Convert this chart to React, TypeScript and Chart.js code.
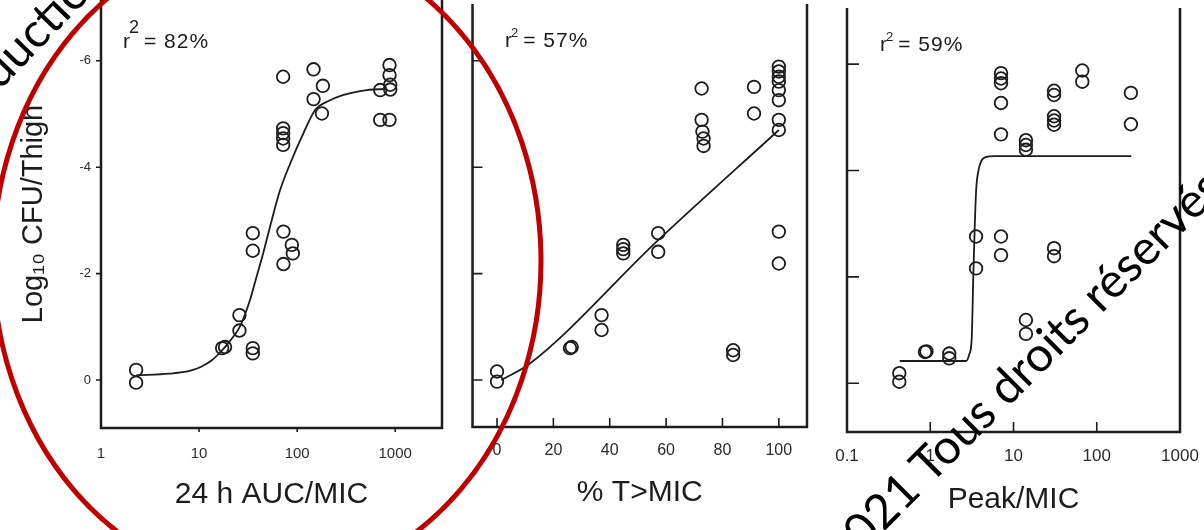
import React, { useEffect, useRef } from "react";
import { Chart, registerables } from "chart.js";

Chart.register(...registerables);

const INK = "#1c1c1c";
const FONT = '"Liberation Sans", Arial, Helvetica, sans-serif';

// shared y axis (log10 CFU/thigh change)
const Y_TICKS = [-6, -4, -2, 0];
const Y_LABELS = ["-6", "-4", "-2", "0"];

// Panel 1 : 24 h AUC/MIC
const AUC_TICKS = [1, 10, 100, 1000];
const AUC_LABELS = ["1", "10", "100", "1000"];
const AUC_X = [2.28, 2.28, 17.2, 18.4, 25.8, 25.8, 35.3, 35.3, 35.3, 35.3, 72.5, 88.3, 90.4, 72.5, 72, 72, 72, 72, 72, 147, 183, 147, 179, 703, 875, 875, 890, 890, 703, 875];
const AUC_Y = [-0.19, 0.05, -0.6, -0.62, -1.22, -0.93, -0.6, -0.5, -2.76, -2.43, -2.79, -2.54, -2.38, -2.18, -5.7, -4.73, -4.64, -4.54, -4.42, -5.84, -5.53, -5.28, -5.01, -5.45, -5.92, -5.73, -5.55, -5.46, -4.89, -4.89];
const AUC_FIT_X = [2.3, 5, 8, 10.5, 13.5, 17, 21, 26, 33, 38, 45, 55, 67, 85, 116, 153, 201, 297, 514, 760];
const AUC_FIT_Y = [-0.09, -0.12, -0.17, -0.25, -0.37, -0.55, -0.75, -1.0, -1.5, -1.9, -2.38, -3.0, -3.57, -4.07, -4.64, -5.08, -5.23, -5.36, -5.45, -5.47];

// Panel 2 : % T>MIC
const T_TICKS = [0, 20, 40, 60, 80, 100];
const T_LABELS = ["0", "20", "40", "60", "80", "100"];
const T_X = [0, 0, 25.9, 26.5, 37.1, 37.1, 44.8, 44.8, 44.8, 57.2, 57.2, 83.8, 83.8, 72.6, 72.6, 72.9, 73.3, 73.3, 91.2, 91.2, 100, 100, 100, 100, 100, 100, 100, 100, 100, 100];
const T_Y = [-0.16, 0.03, -0.6, -0.62, -1.22, -0.94, -2.54, -2.46, -2.38, -2.76, -2.41, -0.56, -0.47, -5.48, -4.89, -4.67, -4.54, -4.4, -5.51, -5.01, -5.89, -5.8, -5.7, -5.61, -5.45, -5.26, -4.89, -4.7, -2.79, -2.19];
const T_FIT_X = [1.5, 11.7, 57, 100];
const T_FIT_Y = [0.0, -0.31, -2.62, -4.7];

// Panel 3 : Peak/MIC
const PEAK_TICKS = [0.1, 1, 10, 100, 1000];
const PEAK_LABELS = ["0.1", "1", "10", "100", "1000"];
const PEAK_X = [0.425, 0.425, 0.865, 0.9, 1.69, 1.69, 3.55, 3.55, 7.08, 7.08, 7.08, 7.08, 7.08, 7.08, 7.08, 14.1, 14.1, 14.1, 14.1, 14.1, 30.7, 30.7, 30.7, 30.7, 30.7, 30.7, 30.7, 67, 67, 257, 257];
const PEAK_Y = [-0.19, -0.03, -0.59, -0.6, -0.56, -0.47, -2.76, -2.16, -2.76, -2.41, -5.83, -5.73, -5.64, -5.27, -4.68, -4.57, -4.48, -4.39, -1.19, -0.93, -5.5, -5.42, -5.02, -4.94, -4.86, -2.54, -2.39, -5.88, -5.67, -5.46, -4.87];
const PEAK_FIT_X = [0.43, 2.7, 2.95, 3.15, 3.3, 3.55, 3.8, 4.1, 4.6, 6, 260];
const PEAK_FIT_Y = [-0.42, -0.42, -0.55, -0.85, -2.1, -3.6, -4.0, -4.18, -4.25, -4.27, -4.27];

type Panel = {
  left: number; width: number;
  padTop: number; padRight: number; yWidth: number; xHeight: number;
  xType: "logarithmic" | "linear"; xMin: number; xMax: number;
  xTicks: number[]; xLabels: string[]; xFont: number; xPad: number;
  title: string; titlePad: number;
  yMin: number; yMax: number; yLabels: boolean; yTitle?: string;
  px: number[]; py: number[]; fx: number[]; fy: number[];
  yTickLen: number; xTickLen: number; xTickSkip: number[];
  r2: { x: number; y: number; val: string; sup: number; rise: number };
};

const PANELS: Panel[] = [
  {
    left: 0, width: 460, padTop: 0, padRight: 18, yWidth: 101, xHeight: 102,
    xType: "logarithmic", xMin: 1, xMax: 3000, xTicks: AUC_TICKS, xLabels: AUC_LABELS, xFont: 15, xPad: 17,
    title: "24 h AUC/MIC", titlePad: 17,
    yMin: -7.143, yMax: 0.902, yLabels: true, yTitle: "Log\u2081\u2080 CFU/Thigh",
    px: AUC_X, py: AUC_Y, fx: AUC_FIT_X, fy: AUC_FIT_Y,
    yTickLen: -5, xTickLen: -4, xTickSkip: [1],
    r2: { x: 123, y: 48, val: "= 82%", sup: 18, rise: 15 },
  },
  {
    left: 460, width: 360, padTop: 4, padRight: 13, yWidth: 12.5, xHeight: 103,
    xType: "linear", xMin: -8.7, xMax: 110, xTicks: T_TICKS, xLabels: T_LABELS, xFont: 16, xPad: 14,
    title: "% T>MIC", titlePad: 19,
    yMin: -7.068, yMax: 0.883, yLabels: false,
    px: T_X, py: T_Y, fx: T_FIT_X, fy: T_FIT_Y,
    yTickLen: 10, xTickLen: 9, xTickSkip: [],
    r2: { x: 505, y: 47, val: "= 57%", sup: 13, rise: 10 },
  },
  {
    left: 820, width: 384, padTop: 8, padRight: 24, yWidth: 27, xHeight: 98,
    xType: "logarithmic", xMin: 0.1, xMax: 1000, xTicks: PEAK_TICKS, xLabels: PEAK_LABELS, xFont: 17, xPad: 14,
    title: "Peak/MIC", titlePad: 12,
    yMin: -7.055, yMax: 0.915, yLabels: false,
    px: PEAK_X, py: PEAK_Y, fx: PEAK_FIT_X, fy: PEAK_FIT_Y,
    yTickLen: 12, xTickLen: 10, xTickSkip: [0.1, 1000],
    r2: { x: 880, y: 51, val: "= 59%", sup: 13, rise: 10 },
  },
];

function framePlugin(p: Panel) {
  return {
    id: "frame",
    afterDraw(chart: any) {
      const { ctx, chartArea: a, scales } = chart;
      ctx.save();
      ctx.strokeStyle = INK;
      ctx.lineWidth = 2.5;
      ctx.beginPath();
      ctx.moveTo(a.left, a.top);
      ctx.lineTo(a.left, a.bottom);
      ctx.lineTo(a.right, a.bottom);
      ctx.lineTo(a.right, a.top);
      ctx.stroke();
      ctx.lineWidth = 1.6;
      ctx.beginPath();
      for (const v of Y_TICKS) {
        const y = scales.y.getPixelForValue(v);
        ctx.moveTo(a.left, y);
        ctx.lineTo(a.left + p.yTickLen, y);
      }
      for (const v of p.xTicks) {
        if (p.xTickSkip.includes(v)) continue;
        const x = scales.x.getPixelForValue(v);
        ctx.moveTo(x, a.bottom);
        ctx.lineTo(x, a.bottom - p.xTickLen);
      }
      ctx.stroke();
      // r^2 annotation (page x converted to canvas x)
      const x0 = p.r2.x - p.left;
      ctx.fillStyle = INK;
      ctx.textBaseline = "alphabetic";
      ctx.textAlign = "left";
      ctx.font = `21px ${FONT}`;
      ctx.fillText("r", x0, p.r2.y);
      const rw = ctx.measureText("r").width;
      ctx.font = `${p.r2.sup}px ${FONT}`;
      ctx.fillText("2", x0 + rw - 1, p.r2.y - p.r2.rise);
      const sw = ctx.measureText("2").width;
      ctx.font = `21px ${FONT}`;
      (ctx as any).letterSpacing = "1px";
      ctx.fillText(p.r2.val, x0 + rw + sw + 4, p.r2.y);
      (ctx as any).letterSpacing = "0px";
      ctx.restore();
    },
  };
}

function PanelChart({ p }: { p: Panel }) {
  const ref = useRef<HTMLCanvasElement | null>(null);
  useEffect(() => {
    if (!ref.current) return;
    const points = p.px.map((x, i) => ({ x, y: p.py[i] }));
    const fit = p.fx.map((x, i) => ({ x, y: p.fy[i] }));
    const chart = new Chart(ref.current, {
      type: "scatter",
      data: {
        datasets: [
          {
            data: fit,
            showLine: true,
            borderColor: INK,
            borderWidth: 1.8,
            pointRadius: 0,
            cubicInterpolationMode: "monotone",
            fill: false,
          } as any,
          {
            data: points,
            pointStyle: "circle",
            pointRadius: 6.3,
            pointBorderWidth: 1.8,
            pointBorderColor: INK,
            pointBackgroundColor: "rgba(0,0,0,0)",
            showLine: false,
          } as any,
        ],
      },
      options: {
        responsive: false,
        animation: false,
        events: [],
        layout: { autoPadding: false, padding: { left: 0, right: p.padRight, top: p.padTop, bottom: 0 } },
        plugins: { legend: { display: false }, tooltip: { enabled: false } },
        scales: {
          x: {
            type: p.xType,
            min: p.xMin,
            max: p.xMax,
            bounds: "data",
            grid: { display: false, drawTicks: false },
            border: { display: false },
            afterBuildTicks: (s: any) => {
              s.ticks = p.xTicks.map((v) => ({ value: v }));
            },
            afterFit: (s: any) => {
              s.height = p.xHeight;
              s.paddingLeft = 0;
              s.paddingRight = 0;
            },
            ticks: {
              autoSkip: false,
              maxRotation: 0,
              padding: p.xPad,
              color: "#2b2b2b",
              font: { family: FONT, size: p.xFont },
              callback: (_v: any, i: number) => p.xLabels[i],
            },
            title: {
              display: true,
              text: p.title,
              color: INK,
              font: { family: FONT, size: 30 },
              padding: { top: 0, bottom: p.titlePad },
            },
          } as any,
          y: {
            type: "linear",
            reverse: true,
            min: p.yMin,
            max: p.yMax,
            bounds: "data",
            grid: { display: false, drawTicks: false },
            border: { display: false },
            afterBuildTicks: (s: any) => {
              s.ticks = Y_TICKS.map((v) => ({ value: v }));
            },
            afterFit: (s: any) => {
              s.width = p.yWidth;
              s.paddingTop = 0;
              s.paddingBottom = 0;
            },
            ticks: {
              display: p.yLabels,
              padding: 10,
              color: "#2b2b2b",
              font: { family: FONT, size: 13 },
              callback: (_v: any, i: number) => Y_LABELS[i],
            },
            title: {
              display: !!p.yTitle,
              text: p.yTitle || "",
              color: INK,
              font: { family: FONT, size: 29 },
              padding: { top: 17, bottom: 0 },
            },
          } as any,
        },
      },
      plugins: [framePlugin(p)],
    });
    return () => chart.destroy();
  }, [p]);
  return (
    <canvas
      ref={ref}
      width={p.width}
      height={530}
      style={{ position: "absolute", left: p.left, top: 0, width: p.width, height: 530 }}
    />
  );
}

const MARK_FONT = 'Lato, "Noto Sans", sans-serif';

function Watermark({ x, y, angle, before, after, size }: { x: number; y: number; angle: number; before: string; after: string; size: number }) {
  const txt: React.CSSProperties = {
    position: "absolute",
    bottom: 0,
    whiteSpace: "pre",
    fontFamily: MARK_FONT,
    fontSize: size,
    lineHeight: 1,
    color: "#000",
  };
  return (
    <div style={{ position: "absolute", left: x, top: y, width: 0, height: 0, transform: `rotate(${angle}deg)`, transformOrigin: "0 0" }}>
      <span style={{ ...txt, right: 0 }}>{before}</span>
      <span style={{ ...txt, left: 0 }}>{after}</span>
    </div>
  );
}

export default function App() {
  return (
    <div style={{ position: "absolute", left: 0, top: 0, width: 1204, height: 530, overflow: "hidden", background: "#fff" }}>
      {PANELS.map((p, i) => (
        <PanelChart key={i} p={p} />
      ))}
      <svg width={1204} height={530} style={{ position: "absolute", left: 0, top: 0 }}>
        <ellipse cx={267} cy={261} rx={274} ry={323} fill="none" stroke="#c00000" strokeWidth={5} />
      </svg>
      <Watermark x={4} y={95} angle={-46} before={"Repro"} after={"duction"} size={48} />
      <Watermark x={1012} y={412} angle={-45} before={"\u00A9 2021 Tous\u00A0"} after={"droits réservés"} size={48} />
    </div>
  );
}
